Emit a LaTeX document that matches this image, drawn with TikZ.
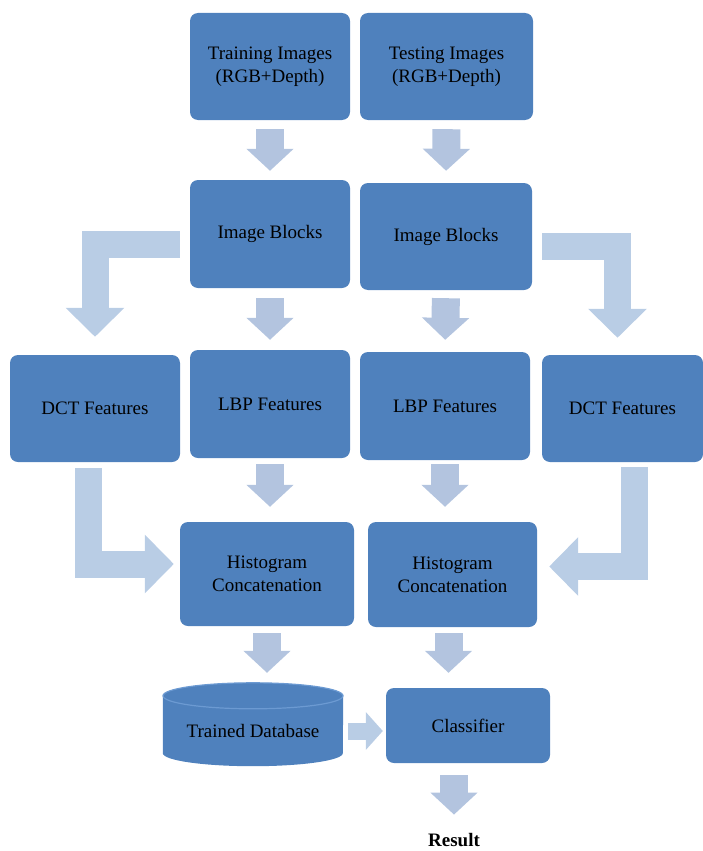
\documentclass[tikz,border=0pt]{standalone}
\usepackage{fontspec}
\setmainfont{Liberation Serif}
\usetikzlibrary{arrows.meta,backgrounds}
\definecolor{boxblue}{HTML}{4F81BD}
\definecolor{rimblue}{HTML}{6C9AD2}
\definecolor{flowblue}{HTML}{B3C4DF}
\definecolor{bendblue}{HTML}{B9CDE5}
\begin{document}
\begin{tikzpicture}[x=1pt,y=-1pt,
  box/.style={fill=boxblue,rounded corners=8pt,align=center,inner sep=0pt,font=\fontsize{19}{23}\selectfont},
  flow/.style={draw=flowblue,line width=28pt,-{Triangle[length=22pt,width=46pt]}},
  elbow/.style={draw=bendblue,line width=27pt,line join=miter,-{Triangle[length=29pt,width=57pt]}},
  link/.style={draw=bendblue,line width=17pt,-{Triangle[length=17pt,width=37pt]}}]
\useasboundingbox (0,0) rectangle (703,851);
\node[box,minimum width=160pt,minimum height=107pt] (trainImg) at (270,66.5) {Training Images\\(RGB+Depth)};
\node[box,minimum width=173pt,minimum height=107pt] (testImg) at (446.5,66.5) {Testing Images\\(RGB+Depth)};
\node[box,minimum width=160pt,minimum height=108pt] (blkL) at (270,234) {Image Blocks};
\node[box,minimum width=172pt,minimum height=107pt] (blkR) at (446,236.5) {Image Blocks};
\node[box,minimum width=170pt,minimum height=107pt] (dctL) at (95,408.5) {DCT Features};
\node[box,minimum width=160pt,minimum height=108pt] (lbpL) at (270,404) {LBP Features};
\node[box,minimum width=170pt,minimum height=108pt] (lbpR) at (445,406) {LBP Features};
\node[box,minimum width=161pt,minimum height=107pt] (dctR) at (622.5,408.5) {DCT Features};
\node[box,minimum width=174pt,minimum height=104pt] (histL) at (267,574) {Histogram\\Concatenation};
\node[box,minimum width=169pt,minimum height=105pt] (histR) at (452.5,574.5) {Histogram\\Concatenation};
\node[minimum width=180pt,minimum height=70pt,inner sep=0pt,font=\fontsize{19}{23}\selectfont] (db) at (253,731) {Trained Database};
\node[box,minimum width=164pt,minimum height=75pt] (cls) at (468,725.5) {Classifier};
\node[inner sep=0pt,font=\fontsize{19}{23}\selectfont\bfseries] (res) at (454,840.5) {Result};
\begin{scope}[on background layer]
\fill[boxblue] (db.north west) -- ([yshift=13pt]db.south west)
  arc[start angle=180,end angle=0,x radius=90,y radius=13]
  -- (db.north east) arc[start angle=0,end angle=-180,x radius=90,y radius=13] -- cycle;
\draw[rimblue,line width=1.2pt] (db.north) ellipse [x radius=90,y radius=13];
\end{scope}
\draw[flow,shorten <=9pt,shorten >=9pt] (trainImg.south) -- (blkL.north);
\draw[flow,shorten <=9pt,shorten >=12pt] (testImg.south) -- (blkR.north);
\draw[flow,shorten <=10pt,shorten >=10pt] (blkL.south) -- (lbpL.north);
\draw[flow,shorten <=8pt,shorten >=12pt] (blkR.south) -- (lbpR.north);
\draw[flow,shorten <=6pt,shorten >=15pt] (lbpL.south) -- (lbpL.south |- histL.north);
\draw[flow,shorten <=4pt,shorten >=15pt] (lbpR.south) -- (lbpR.south |- histR.north);
\draw[flow,shorten <=7pt,shorten >=23pt] (histL.south) -- (histL.south |- db.north);
\draw[flow,shorten <=6pt,shorten >=15pt] ([xshift=-4pt]histR.south) -- ([xshift=-4pt]histR.south |- cls.north);
\draw[flow,shorten <=12pt,shorten >=19pt] (cls.south -| res) -- (res.north);
\draw[link,shorten <=5pt,shorten >=3pt] (db.east) -- (db.east -| cls.west);
\draw[elbow,shorten <=10pt,shorten >=18pt] ([yshift=-10pt]blkL.west) -| (dctL.north);
\draw[elbow,shorten <=10pt,shorten >=17pt] ([yshift=-10pt]blkR.east) -| ([xshift=-5pt]dctR.north);
\draw[elbow,shorten <=6pt,shorten >=6pt] ([xshift=-7pt]dctL.south) |- ([yshift=10pt]histL.west);
\draw[elbow,shorten <=5pt,shorten >=12pt] ([xshift=12pt]dctR.south) |- ([yshift=8pt]histR.east);
\end{tikzpicture}
\end{document}
